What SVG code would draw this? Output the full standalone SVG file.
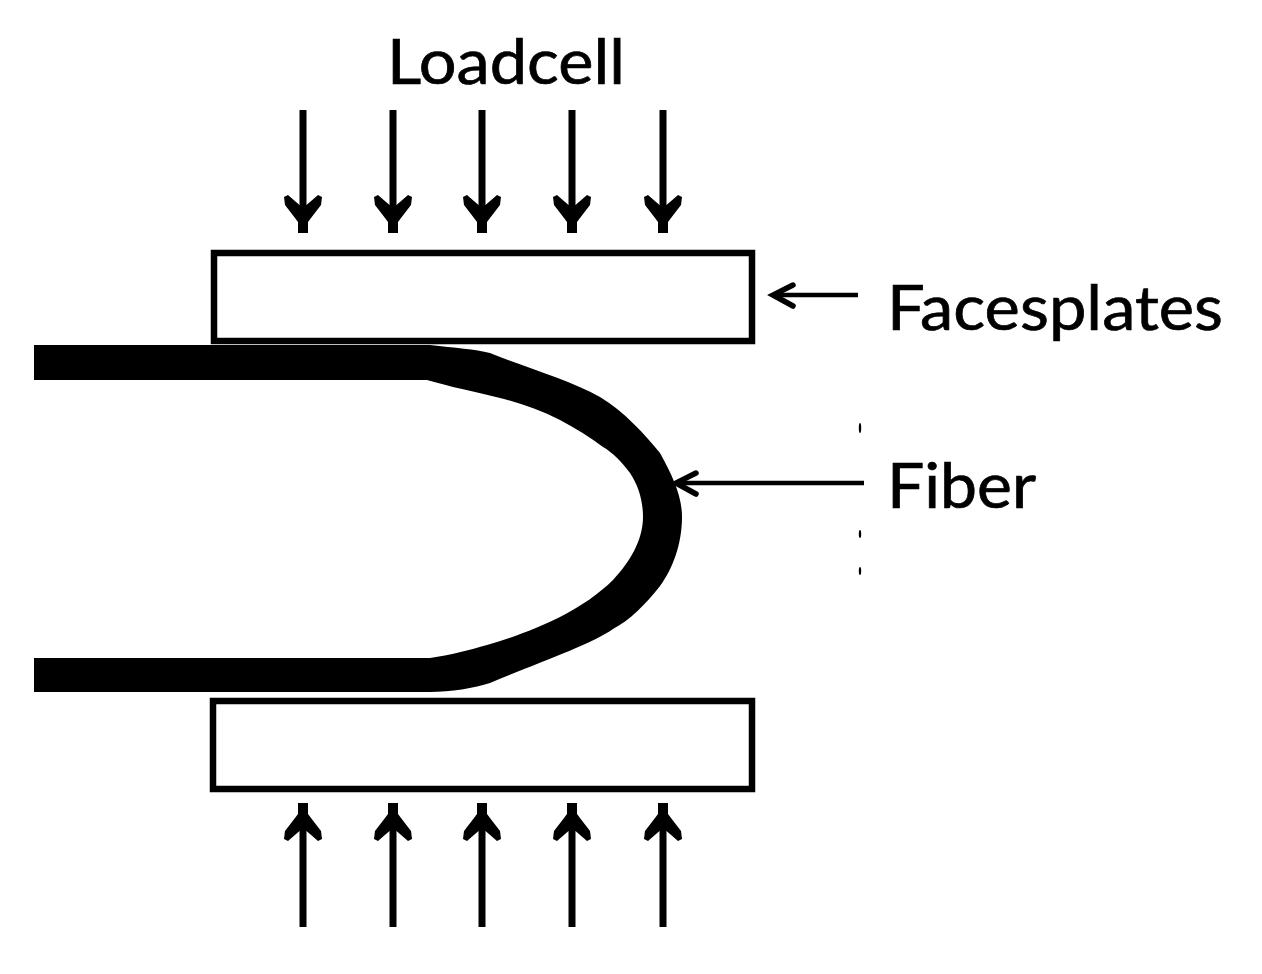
<svg xmlns="http://www.w3.org/2000/svg" width="1262" height="974" viewBox="0 0 1262 974">
<style>
.plate{fill:#fff;stroke:#000;stroke-width:6.5}
.shaft{fill:none;stroke:#000;stroke-width:7}
.thin{fill:none;stroke:#000;stroke-width:4.5}
.barb{fill:none;stroke:#000;stroke-width:5.500;stroke-linecap:round;stroke-linejoin:miter}
.lbl{font-family:"Lato","Liberation Sans",sans-serif;font-size:61px;fill:#000;stroke:#000;stroke-width:.7}
</style>
<defs>
<g id="down"><path class="shaft" d="M0 110V230"/><path d="M-19 197L-15 195L-3.500 205H3.500L15 195L19 197L18 205L8 218L5 222V233H-5V222L-8 218L-18 205Z"/></g>
<g id="up"><path class="shaft" d="M0 927V806"/><path d="M-19 839L-15 841L-3.500 831H3.500L15 841L19 839L18 831L8 818L5 814V803H-5V814L-8 818L-18 831Z"/></g>
</defs>
<rect width="1262" height="974" fill="#fff"/>
<g id="plate-top"><rect class="plate" x="214" y="253" width="538" height="88"/></g>
<g id="plate-bottom"><rect class="plate" x="213" y="701" width="539" height="88"/></g>
<g id="fiber"><path d="M34 345H430C455 348 475 349 490 353C530 369 570 380 600 397C625 412 645 435 660 453C672 475 682 495 682 517C682 545 672 570 660 586C645 605 630 620 613 629C590 645 540 662 490 683C475 688 450 692 430 692H34V658H430C450 655 470 650 487 645C515 637 540 627 560 617C580 607 600 593 613 580C630 562 643 540 643 517C643 500 638 485 630 473C622 462 612 452 603 447C590 437 575 428 560 420C540 410 520 403 500 398C485 394 470 391 453 387C445 385 435 382 427 380H34Z"/></g>
<g id="connectors">
<use href="#down" x="303"/><use href="#down" x="393"/><use href="#down" x="482"/><use href="#down" x="572"/><use href="#down" x="663"/>
<use href="#up" x="303"/><use href="#up" x="393"/><use href="#up" x="482"/><use href="#up" x="572"/><use href="#up" x="663"/>
<path class="thin" d="M858 295H776"/><path class="barb" d="M793 285L773 295L793 306"/>
<path class="thin" d="M864 483H678"/><path class="barb" d="M696 473L676 483L696 494"/>
</g>
<g id="specks"><ellipse cx="860" cy="428" rx="1.200" ry="5"/><ellipse cx="860" cy="534" rx="1.200" ry="4"/><ellipse cx="860" cy="571" rx="1.200" ry="4"/></g>
<g id="label-loadcell"><text class="lbl" x="387" y="84" textLength="238" lengthAdjust="spacingAndGlyphs">Loadcell</text></g>
<g id="label-facesplates"><text class="lbl" x="887" y="330" textLength="336" lengthAdjust="spacingAndGlyphs">Facesplates</text></g>
<g id="label-fiber"><text class="lbl" x="887" y="508" textLength="149" lengthAdjust="spacingAndGlyphs">Fiber</text></g>
</svg>
